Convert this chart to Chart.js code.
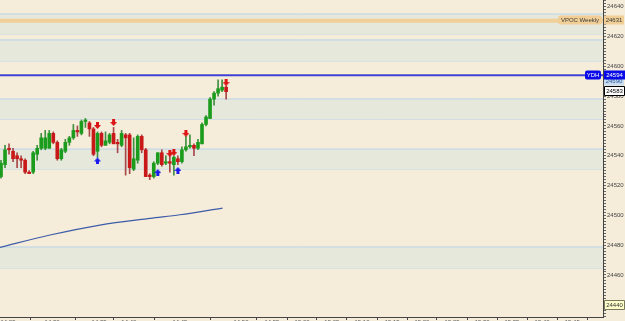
<!DOCTYPE html>
<html>
<head>
<meta charset="utf-8">
<script src="https://cdn.jsdelivr.net/npm/chart.js@4.4.1/dist/chart.umd.min.js"></script>
<style>
  html, body { margin: 0; padding: 0; background: #f5ecda; overflow: hidden; }
  #wrap { width: 625px; height: 321px; overflow: hidden; }
  canvas { display: block; }
</style>
</head>
<body>
<div id="wrap"><canvas id="canvas" width="625" height="335"></canvas></div>
<script>
// candles (one per slot, index 0..56)
var opens  = [24526,24534,24545,24543,24540,24538,24537,24529,24529,24541,24545,24545,24545,24555,24549,24538,24543,24549,24552,24557,
              24555,24563,24562,24558,24543,24555,24547,24549,24555,24549,24547,24554,24554,24531,24537,24553,24544,24527,24526,24535,
              24542,24535,24536,24534,24538,24536,24544,24546,24547,24545,24548,24561,24565,24578,24582,24584,24586];
var highs  = [24537,24547,24548,24545,24542,24540,24538,24530,24543,24547,24555,24557,24557,24556,24550,24545,24551,24553,24561,24560,
              24564,24565,24563,24559,24556,24556,24556,24555,24559,24551,24557,24555,24555,24552,24554,24554,24545,24528,24536,24542,
              24544,24540,24541,24540,24540,24546,24553,24554,24548,24551,24562,24567,24579,24583,24591,24591,24587];
var lows   = [24525,24532,24541,24536,24532,24532,24528,24528,24528,24537,24544,24544,24545,24548,24537,24537,24542,24547,24551,24553,
              24554,24559,24553,24540,24539,24546,24547,24548,24548,24542,24546,24527,24528,24530,24535,24542,24526,24524,24525,24534,
              24533,24534,24529,24527,24534,24535,24543,24545,24540,24544,24548,24560,24565,24574,24580,24583,24578];
var closes = [24535,24544,24544,24538,24538,24537,24529,24528,24542,24545,24552,24552,24555,24549,24538,24544,24549,24552,24557,24556,
              24563,24564,24558,24541,24555,24547,24550,24554,24548,24548,24555,24552,24532,24538,24553,24544,24526,24526,24535,24542,
              24534,24536,24535,24539,24536,24544,24546,24547,24545,24549,24561,24566,24578,24582,24585,24586,24583];

// signal arrows
var sellIdx   = [24, 28, 42, 43, 46, 56];
var sellPrice = [24560.3, 24562.3, 24541.5, 24542.2, 24555, 24589.1];
var buyIdx    = [24, 39, 44];
var buyPrice  = [24536.5, 24528.7, 24530.1];

// moving average (read at a few slots)
var maIdx   = [-0.25, 12.2, 24.6, 37.1, 44.5, 55.1];
var maPrice = [24478.5, 24486.8, 24493.5, 24498.0, 24500.4, 24504.9];

// zones and levels
var zoneTops    = [24635.1, 24617.7, 24578.1, 24544.5, 24478.8];
var zoneBottoms = [24621.7, 24603.6, 24564.6, 24531.1, 24464.7];
var vpocWeekly = 24630.6;
var ydh = 24594;
var ydhShadow = 24595.1;

// axis ticks
var priceLabels = [24440,24460,24480,24500,24520,24540,24560,24580,24600,24620,24640];
var timeTickPos = [1.74,12.7,24.4,31.8,44.5,59.7,67.4,74.9,82.3,89.8,97.3,104.7,112.2,119.7,127.1,134.6,142.1];
var timeLabels  = ['14:25','14:30','14:35','14:40','14:45','14:50','14:55','15:00','15:05','15:10','15:15','15:20','15:25','15:30','15:35','15:40','15:45'];

var X_MIN = -0.25, X_MAX = 149.75, Y_MIN = 24431.8, Y_MAX = 24644.5;
var FONT = '"Liberation Sans", Arial, sans-serif';

function arrowImage(color, up) {
  var c = document.createElement('canvas');
  c.width = 7; c.height = 7;
  var g = c.getContext('2d');
  if (up) { g.translate(0, 7); g.scale(1, -1); }
  g.beginPath();
  g.moveTo(2, 0); g.lineTo(5, 0); g.lineTo(5, 3); g.lineTo(7, 3);
  g.lineTo(3.5, 7); g.lineTo(0, 3); g.lineTo(2, 3); g.closePath();
  g.fillStyle = color; g.fill();
  return c;
}

function levelLine(price, color, width, fill, bg, order) {
  return {
    type: 'line',
    data: [{x: X_MIN, y: price}, {x: X_MAX, y: price}],
    borderColor: color, borderWidth: width, pointRadius: 0,
    fill: fill, backgroundColor: bg, order: order
  };
}

var datasets = [];
zoneTops.forEach(function(t, k) {
  datasets.push(levelLine(t, '#b9d4ea', 1, '+1', '#e6e8dc', 20));
  datasets.push(levelLine(zoneBottoms[k], '#b9d4ea', 1, false, 'transparent', 20));
});
datasets.push(levelLine(vpocWeekly, '#f0cf98', 4, false, 'transparent', 19));
datasets.push(levelLine(ydhShadow, '#fff6c4', 1, false, 'transparent', 19));
datasets.push(levelLine(ydh, '#4040d8', 2, false, 'transparent', 18));

var up = closes.map(function(c, i) { return c >= opens[i]; });

datasets.push({
  type: 'bar', grouped: false, order: 3, barThickness: 1, borderWidth: 0,
  data: lows.map(function(l, i) { return {x: i, y: [l, highs[i]]}; }),
  backgroundColor: up.map(function(u) { return u ? '#3f8f3f' : '#a84848'; })
});
datasets.push({
  type: 'bar', grouped: false, order: 2, barThickness: 3, borderWidth: 0, minBarLength: 1,
  data: opens.map(function(o, i) { return {x: i, y: [o, closes[i]]}; }),
  backgroundColor: up.map(function(u) { return u ? '#1c9c1c' : '#c81818'; })
});
datasets.push({
  type: 'line', order: 1, borderColor: '#3d5ca8', borderWidth: 1.2, pointRadius: 0,
  cubicInterpolationMode: 'monotone', fill: false,
  data: maIdx.map(function(x, i) { return {x: x, y: maPrice[i]}; })
});
datasets.push({
  type: 'line', order: 0, showLine: false, pointRadius: 3,
  pointStyle: arrowImage('#dd1414', false),
  data: sellIdx.map(function(x, i) { return {x: x, y: sellPrice[i]}; })
});
datasets.push({
  type: 'line', order: 0, showLine: false, pointRadius: 3,
  pointStyle: arrowImage('#1a1aee', true),
  data: buyIdx.map(function(x, i) { return {x: x, y: buyPrice[i]}; })
});

// boxed labels on the price axis
var priceTags = {
  id: 'priceTags',
  afterDraw: function(chart) {
    var ctx = chart.ctx, ys = chart.scales.y, a = chart.chartArea;
    ctx.save();
    ctx.font = '6px ' + FONT;
    ctx.textBaseline = 'middle';
    function tag(x1, x2, value, text, bg, fg, border, r) {
      var y = Math.round(ys.getPixelForValue(value));
      ctx.beginPath();
      if (ctx.roundRect) ctx.roundRect(x1, y - 4.5, x2 - x1, 9, r); else ctx.rect(x1, y - 4.5, x2 - x1, 9);
      ctx.fillStyle = bg; ctx.fill();
      if (border) { ctx.strokeStyle = border; ctx.lineWidth = 1; ctx.stroke(); }
      ctx.fillStyle = fg;
      ctx.textAlign = 'center';
      ctx.fillText(text, (x1 + x2) / 2, y + 0.5);
    }
    tag(a.right - 45, a.right - 1, 24631, 'VPOC Weekly', '#f0ce96', '#3a3a3a', null, 3);
    tag(a.right + 1, a.right + 21, 24631, '24631', '#f0ce96', '#3a3a3a', null, 0);
    tag(a.right + 1, a.right + 21, 24590.2, '24590', '#c8dcf0', '#2a5a9a', null, 0);
    tag(a.right - 18, a.right - 2, ydh, 'YDH', '#0a0ae8', '#ffffff', null, 2);
    tag(a.right + 1, 625, ydh, '24594', '#0a0ae8', '#ffffff', null, 0);
    tag(a.right + 1.5, a.right + 21.5, 24583.4, '24583', '#ffffff', '#000000', '#000000', 0);
    tag(a.right + 1.5, a.right + 21.5, 24440, '24440', '#ffffcc', '#333333', '#7a7a5a', 0);
    ctx.restore();
  }
};

window.onload = function() {
  var ctx = document.getElementById('canvas').getContext('2d');
  window.myChart = new Chart(ctx, {
    type: 'bar',
    data: { datasets: datasets },
    plugins: [priceTags],
    options: {
      responsive: false,
      animation: false,
      devicePixelRatio: 1,
      layout: { padding: 0, autoPadding: false },
      plugins: { legend: { display: false }, tooltip: { enabled: false } },
      scales: {
        x: {
          type: 'linear', min: X_MIN, max: X_MAX, offset: false,
          afterBuildTicks: function(s) { s.ticks = timeTickPos.map(function(v) { return {value: v}; }); },
          afterFit: function(s) { s.height = 18; s.paddingLeft = 0; s.paddingRight = 0; },
          grid: { drawOnChartArea: false, tickLength: 3, color: '#444' },
          border: { display: true, color: '#444' },
          ticks: {
            autoSkip: false, maxRotation: 0, padding: 2, color: '#555',
            font: { family: FONT, size: 6, lineHeight: '1px' },
            callback: function(v, i) { return timeLabels[i]; }
          }
        },
        y: {
          position: 'right', min: Y_MIN, max: Y_MAX,
          afterBuildTicks: function(s) {
            var t = [];
            for (var v = 24432; v <= 24644; v += 2) t.push({value: v});
            s.ticks = t;
          },
          afterFit: function(s) { s.width = 22; s.paddingTop = 0; s.paddingBottom = 0; },
          grid: { drawOnChartArea: false, tickLength: 3, color: '#666' },
          border: { display: true, color: '#444' },
          ticks: {
            autoSkip: false, padding: 1, color: '#444',
            font: { family: FONT, size: 6, lineHeight: '1px' },
            callback: function(v) { return priceLabels.indexOf(v) >= 0 ? String(v) : ''; }
          }
        }
      }
    }
  });
};
</script>
</body>
</html>
